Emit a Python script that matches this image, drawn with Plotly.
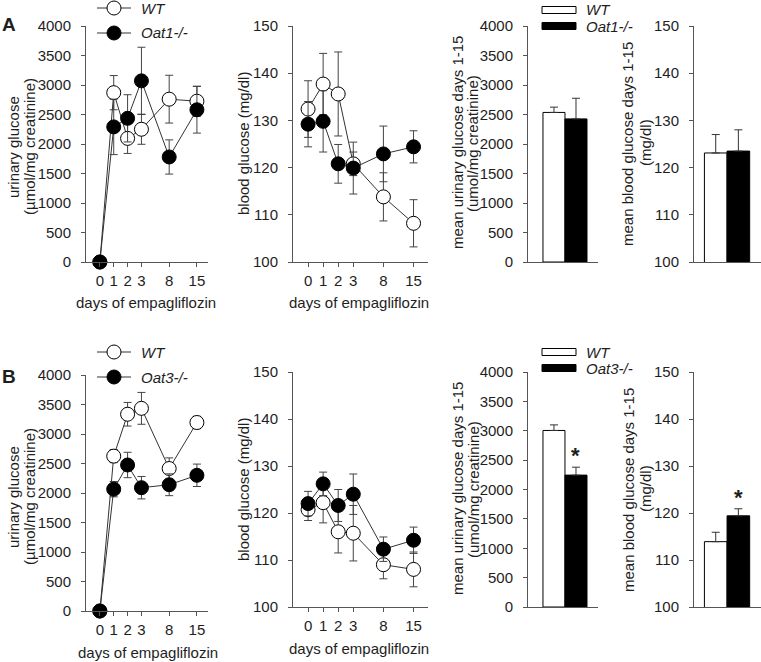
import plotly.graph_objects as go

# x axis of the time-course plots is compressed after day 3
days = ['0', '1', '2', '3', '8', '15']
day_slot = [0, 1, 2, 3, 5, 7]

# panel A: WT vs Oat1-/-
ua_wt = [0, 2870, 2095, 2250, 2760, 2725]
ua_wt_err = [0, 290, 255, 255, 405, 255]
ua_ko = [0, 2290, 2435, 3070, 1780, 2580]
ua_ko_err = [0, 470, 400, 570, 290, 395]
bga_wt = [132.4, 137.7, 135.6, 120.8, 113.8, 108.2]
bga_wt_err = [6.0, 6.5, 8.9, 2.5, 5.1, 5.0]
bga_ko = [129.2, 129.8, 120.8, 119.9, 122.9, 124.4]
bga_ko_err = [4.8, 6.5, 4.1, 5.5, 5.9, 3.4]
mua = [2535, 2425]
mua_err = [90, 350]
mbga = [123.1, 123.5]
mbga_err = [3.9, 4.5]

# panel B: WT vs Oat3-/-
ub_wt = [0, 2625, 3335, 3435, 2415, 3195]
ub_wt_err = [0, 110, 200, 270, 180, 105]
ub_ko = [0, 2065, 2475, 2090, 2140, 2300]
ub_ko_err = [0, 130, 215, 190, 185, 190]
bgb_wt = [120.7, 122.2, 116.0, 115.7, 109.0, 108.0]
bgb_wt_err = [2.3, 4.3, 4.5, 5.9, 3.0, 3.7]
bgb_ko = [122.0, 126.2, 121.6, 124.0, 112.3, 114.2]
bgb_ko_err = [2.6, 2.5, 3.4, 4.3, 2.6, 2.8]
mub = [3005, 2245]
mub_err = [95, 135]
mbgb = [113.9, 119.4]
mbgb_err = [2.0, 1.5]

W, H = 761, 662
FONT = 'Arial, Liberation Sans, sans-serif'
AX = '#555555'
TXT = '#1e1e1e'


def fx(p):
    return p / W


def fy(p):
    return 1 - p / H


def ax_names(n):
    s = '' if n == 1 else str(n)
    return 'x' + s, 'y' + s, 'xaxis' + s, 'yaxis' + s


fig = go.Figure()
layout = {}
ann = []
shapes = []


def y_axis(xn, ydom, yr, dtick):
    return dict(domain=[fy(ydom[1]), fy(ydom[0])], range=yr, dtick=dtick, anchor=xn,
                ticks='outside', ticklen=4, tickcolor=AX, showline=True, linecolor=AX,
                showgrid=False, zeroline=False, automargin=False, ticklabelstandoff=7,
                tickfont=dict(size=15, color=TXT, family=FONT))


def line_chart(n, wt, wt_err, ko, ko_err, xdom, ydom, xr, yr, dtick):
    xn, yn, xk, yk = ax_names(n)
    for y, e, fill in [(wt, wt_err, 'white'), (ko, ko_err, 'black')]:
        fig.add_trace(go.Scatter(
            x=day_slot, y=y, mode='lines+markers', xaxis=xn, yaxis=yn,
            error_y=dict(type='data', array=e, color='#444', thickness=1, width=4),
            marker=dict(size=14, color=fill, line=dict(color='black', width=1)),
            line=dict(color='#333', width=1), cliponaxis=False, showlegend=False))
    layout[xk] = dict(domain=[fx(xdom[0]), fx(xdom[1])], range=xr, anchor=yn,
                      tickvals=day_slot, ticktext=days, ticks='outside', ticklen=4,
                      tickcolor=AX, showline=True, linecolor=AX, showgrid=False,
                      zeroline=False, ticklabelstandoff=1, automargin=False,
                      tickfont=dict(size=15, color=TXT, family=FONT))
    layout[yk] = y_axis(xn, ydom, yr, dtick)


def bar_chart(n, vals, errs, xdom, ydom, xr, yr, dtick, star=False):
    xn, yn, xk, yk = ax_names(n)
    for i, fill in enumerate(['white', 'black']):
        fig.add_trace(go.Bar(
            x=[i], y=[vals[i]], width=1, xaxis=xn, yaxis=yn,
            marker=dict(color=fill, line=dict(color='black', width=1)),
            error_y=dict(type='data', array=[errs[i]], arrayminus=[0], symmetric=False,
                         color='#333', thickness=1, width=4),
            showlegend=False))
    if star:
        ann.append(dict(x=1, y=vals[1] + errs[1], xref=xn, yref=yn, text='<b>*</b>',
                        showarrow=False, yanchor='bottom', yshift=-3,
                        font=dict(size=22, color=TXT, family=FONT)))
    layout[xk] = dict(domain=[fx(xdom[0]), fx(xdom[1])], range=xr, anchor=yn,
                      showticklabels=False, ticks='', showline=True, linecolor=AX,
                      showgrid=False, zeroline=False, automargin=False)
    layout[yk] = y_axis(xn, ydom, yr, dtick)


def vtitle(x, y, text):
    ann.append(dict(x=fx(x), y=fy(y), xref='paper', yref='paper', text=text, textangle=-90,
                    showarrow=False, xanchor='center', yanchor='middle',
                    font=dict(size=15, color=TXT, family=FONT)))


def htext(x, y, text, size=15, anchor='center'):
    ann.append(dict(x=fx(x), y=fy(y), xref='paper', yref='paper', text=text,
                    showarrow=False, xanchor=anchor, yanchor='middle',
                    font=dict(size=size, color=TXT, family=FONT)))


def legend_lines(top, ko_name):
    for k, fill in enumerate(['white', 'black']):
        yc = top + 25 * k
        shapes.append(dict(type='line', xref='paper', yref='paper', x0=fx(97), x1=fx(131),
                           y0=fy(yc), y1=fy(yc), line=dict(color='#333', width=1)))
        shapes.append(dict(type='circle', xref='paper', yref='paper', x0=fx(107), x1=fx(121),
                           y0=fy(yc - 7), y1=fy(yc + 7), fillcolor=fill,
                           line=dict(color='black', width=1)))
        htext(139, yc, '<i>%s</i>' % ['WT', ko_name][k], anchor='left')


def legend_bars(top, ko_name):
    for k, fill in enumerate(['white', 'black']):
        yc = top + 16 * k
        shapes.append(dict(type='rect', xref='paper', yref='paper', x0=fx(542), x1=fx(576),
                           y0=fy(yc - 3.5), y1=fy(yc + 3.5), fillcolor=fill,
                           line=dict(color='black', width=1)))
        htext(584, yc, '<i>%s</i>' % ['WT', ko_name][k], anchor='left')


ur_title = ['urinary glucose', '(µmol/mg creatinine)']
mur_title = ['mean urinary glucose days 1-15', '(umol/mg creatinine)']
mbg_title = ['mean blood glucose days 1-15', '(mg/dl)']

# panel A
line_chart(1, ua_wt, ua_wt_err, ua_ko, ua_ko_err, (86, 208), (26, 262), [-1.0, 7.8], [0, 4000], 500)
line_chart(2, bga_wt, bga_wt_err, bga_ko, bga_ko_err, (293, 428), (26, 262), [-1.0, 7.96], [100, 150], 10)
bar_chart(3, mua, mua_err, (528, 598), (26, 262), [-1.18, 2.0], [0, 4000], 500)
bar_chart(4, mbga, mbga_err, (694, 761), (26, 262), [-0.96, 2.0], [100, 150], 10)

# panel B
line_chart(5, ub_wt, ub_wt_err, ub_ko, ub_ko_err, (86, 208), (375, 611), [-1.0, 7.8], [0, 4000], 500)
line_chart(6, bgb_wt, bgb_wt_err, bgb_ko, bgb_ko_err, (293, 428), (372, 607), [-1.0, 7.96], [100, 150], 10)
bar_chart(7, mub, mub_err, (528, 598), (372, 607), [-1.18, 2.0], [0, 4000], 500, star=True)
bar_chart(8, mbgb, mbgb_err, (694, 761), (372, 607), [-0.96, 2.0], [100, 150], 10, star=True)

for off, off1 in [(0, 0), (346, 350)]:
    vtitle(13, 147 + off1, ur_title[0])
    vtitle(29, 147 + off1, ur_title[1])
    vtitle(243, 143 + off, 'blood glucose (mg/dl)')
    vtitle(457, 143 + off, mur_title[0])
    vtitle(473, 144 + off, mur_title[1])
    vtitle(628, 144 + off, mbg_title[0])
    vtitle(645, 143 + off, mbg_title[1])

htext(146, 302, 'days of empagliflozin')
htext(359, 302, 'days of empagliflozin')
htext(148, 652, 'days of empagliflozin')
htext(359, 648, 'days of empagliflozin')

htext(9, 24, '<b>A</b>', size=19)
htext(9, 376, '<b>B</b>', size=19)

legend_lines(8, 'Oat1-/-')
legend_bars(10, 'Oat1-/-')
legend_lines(352, 'Oat3-/-')
legend_bars(352, 'Oat3-/-')

fig.update_layout(**layout)
fig.update_layout(width=W, height=H, margin=dict(l=0, r=0, t=0, b=0, autoexpand=False),
                  paper_bgcolor='white', plot_bgcolor='white', barmode='overlay',
                  annotations=ann, shapes=shapes, font=dict(family=FONT, color=TXT))

fig.write_html("out.html", config={'displayModeBar': False},
               post_script="document.body.style.margin='0';")
